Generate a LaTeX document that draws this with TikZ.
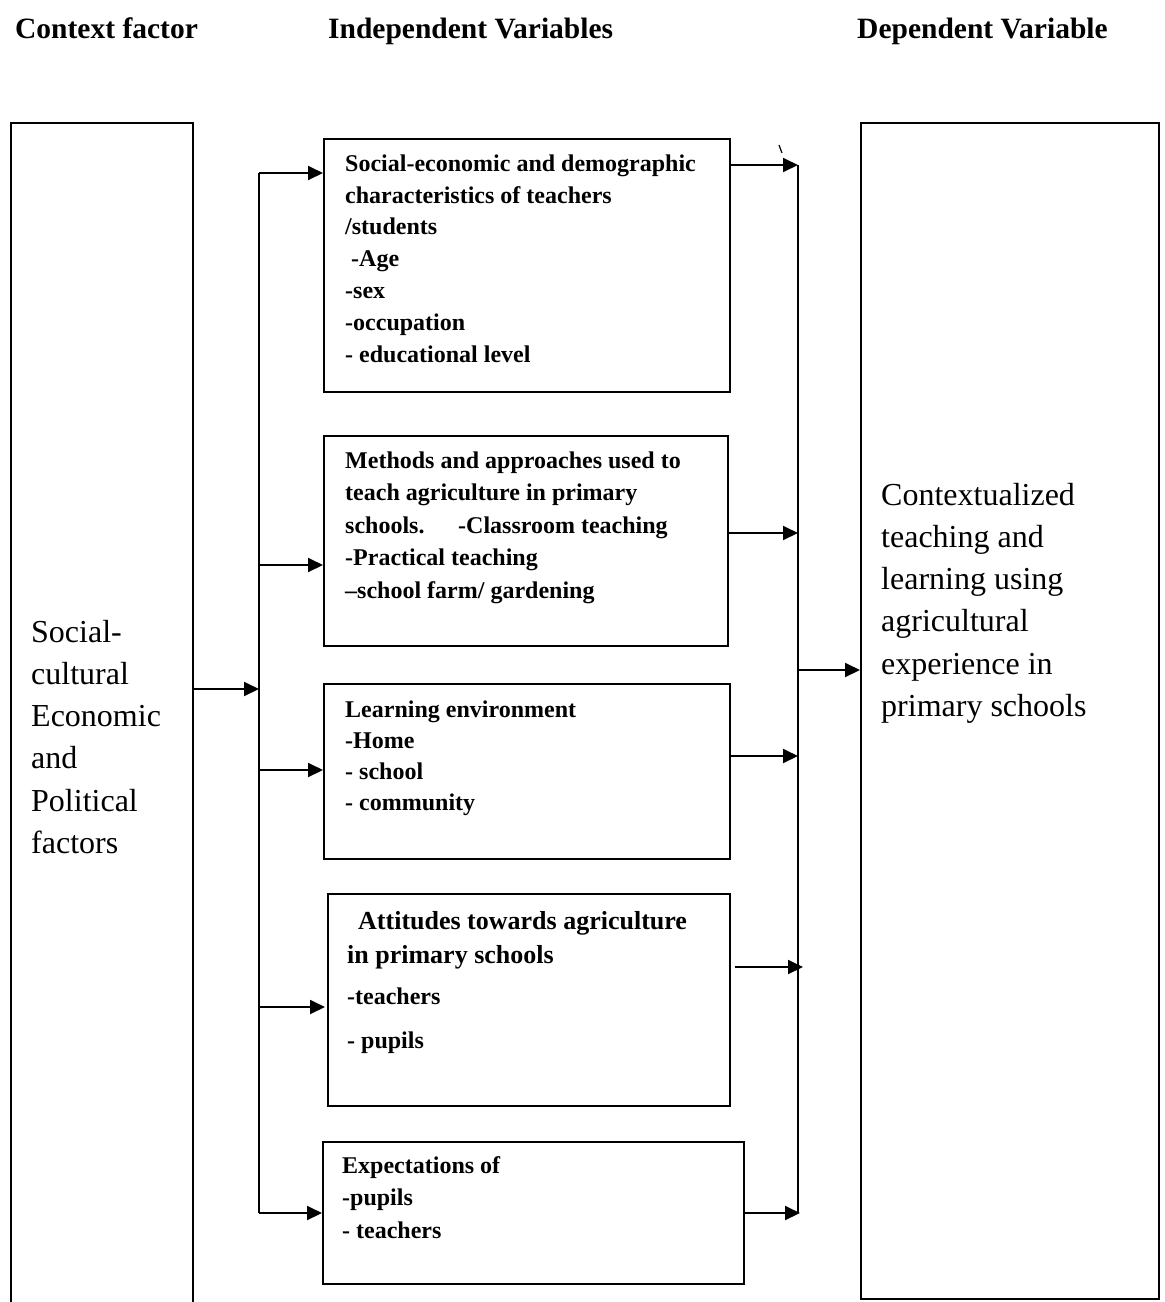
\documentclass[tikz,border=0pt]{standalone}
\usepackage{fontspec}
\setmainfont{Liberation Serif}
\usetikzlibrary{arrows.meta}
\newcommand\mystrut[1]{\rule{0pt}{#1pt}}
\begin{document}
\begin{tikzpicture}[x=1pt,y=-1pt,
  ln/.style={line width=1.9pt},
  arr/.style={line width=1.9pt,-{Triangle[length=15pt,width=14pt]}},
  box/.style={draw,line width=1.8pt,rectangle,anchor=north west,inner sep=0pt},
  bt/.style={anchor=north west,inner sep=0pt,align=left,font=\bfseries\fontsize{24}{32.5}\selectfont},
  hd/.style={anchor=base west,inner sep=0pt,font=\bfseries\fontsize{29.5}{35}\selectfont},
  big/.style={anchor=north west,inner sep=0pt,align=left,font=\fontsize{32}{42.2}\selectfont}]
\useasboundingbox[fill=white] (0,0) rectangle (1165,1302);

% headers
\node[hd] (h1) at (15,38) {Context factor};
\node[hd] (h2) at (328,38) {Independent Variables};
\node[hd] (h3) at (857,38) {Dependent Variable};

% outer boxes
\node[box,minimum width=182pt,minimum height=1220pt] (ctx) at (10,122) {};
\node[box,minimum width=298pt,minimum height=1176pt] (dep) at (860,122) {};
\node[big] (ctxt) at (31,610) {\mystrut{32}Social-\\cultural\\Economic\\and\\Political\\factors};
\node[big] (dept) at (881,473) {\mystrut{32}Contextualized\\teaching and\\learning using\\agricultural\\experience in\\primary schools};

% independent variable boxes
\node[box,minimum width=406pt,minimum height=253pt] (b1) at (323,138) {};
\node[box,minimum width=404pt,minimum height=210pt] (b2) at (323,435) {};
\node[box,minimum width=406pt,minimum height=175pt] (b3) at (323,683) {};
\node[box,minimum width=402pt,minimum height=212pt] (b4) at (327,893) {};
\node[box,minimum width=421pt,minimum height=142pt] (b5) at (322,1141) {};

\node[bt,font=\bfseries\fontsize{24}{31.8}\selectfont] (t1) at (345,147) {\mystrut{24}Social-economic and demographic\\characteristics of teachers\\/students\\\hspace*{6pt}-Age\\-sex\\-occupation\\- educational level};
\node[bt] (t2) at (345,444) {\mystrut{24}Methods and approaches used to\\teach agriculture in primary\\\hbox to 113pt{schools.\hfil}-Classroom teaching\\-Practical teaching\\--school farm/ gardening};
\node[bt,font=\bfseries\fontsize{24}{31}\selectfont] (t3) at (345,693) {\mystrut{24}Learning environment\\-Home\\- school\\- community};
\node[bt,font=\bfseries\fontsize{26}{34}\selectfont] (t4) at (347,903) {\mystrut{26}\hspace*{11pt}Attitudes towards agriculture\\in primary schools\\[7pt]{\fontsize{24}{34}\selectfont -teachers}\\[10pt]{\fontsize{24}{34}\selectfont - pupils}};
\node[bt] (t5) at (342,1149) {\mystrut{24}Expectations of\\-pupils\\- teachers};

% left bus
\coordinate (s0) at (259,689);
\coordinate (s1) at (259,173);
\coordinate (s2) at (259,565);
\coordinate (s3) at (259,770);
\coordinate (s4) at (259,1007);
\coordinate (s5) at (259,1213);
\draw[arr] (ctx.east |- s0) -- (s0);
\draw[ln] (s1) -- (s5);
\draw[arr] (s1) -- (s1 -| b1.west);
\draw[arr] (s2) -- (s2 -| b2.west);
\draw[arr] (s3) -- (s3 -| b3.west);
\draw[arr] (s4) -- ([xshift=-2pt]s4 -| b4.west);
\draw[arr] (s5) -- (s5 -| b5.west);

% right bus
\coordinate (r1) at (798,165);
\coordinate (r2) at (798,533);
\coordinate (r3) at (798,756);
\coordinate (r4) at (803,967);
\coordinate (r5) at (800,1213);
\coordinate (rb) at (798,1213);
\coordinate (o) at (798,670);
\draw[ln] (r1) -- (rb);
\draw[arr] (b1.east |- r1) -- (r1);
\draw[arr] (b2.east |- r2) -- (r2);
\draw[arr] (b3.east |- r3) -- (r3);
\draw[arr] ([xshift=4pt]b4.east |- r4) -- (r4);
\draw[arr] (b5.east |- r5) -- (r5);
\draw[arr] (o) -- (o -| dep.west);

% small stray tick
\draw[line width=1.2pt] (779,145) -- (782,153);
\end{tikzpicture}
\end{document}
